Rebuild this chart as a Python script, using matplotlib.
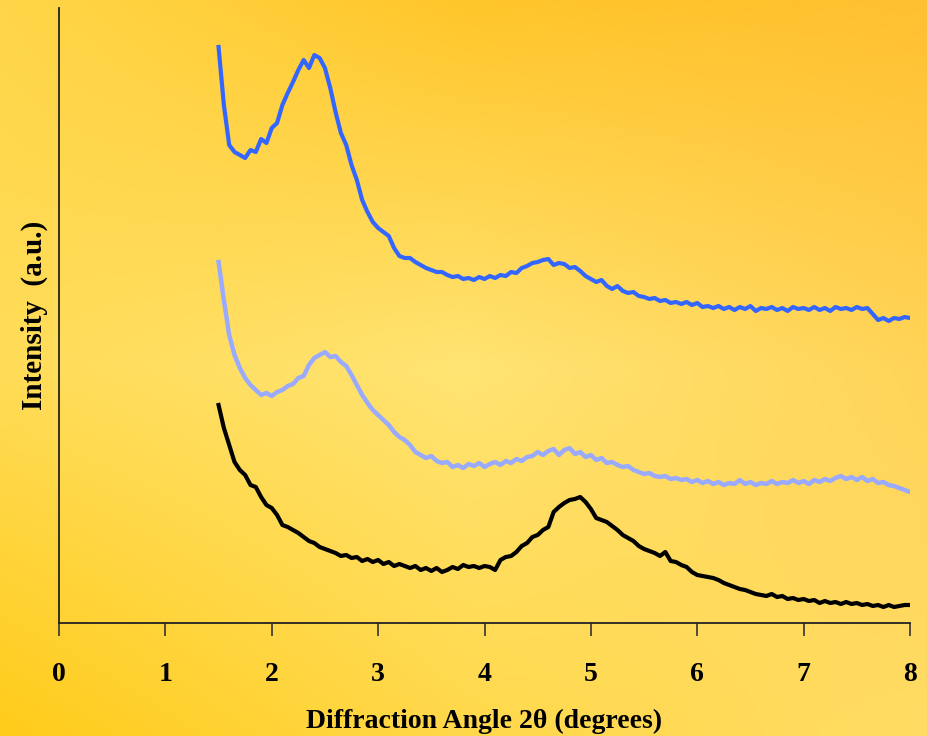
import matplotlib
matplotlib.use("Agg")
import matplotlib.pyplot as plt
import numpy as np

# XRD patterns, 2-theta from 1.50 to 8.00 deg in 0.05 deg steps
two_theta_start = 1.50
two_theta_step = 0.05

upper = [576, 518, 478, 471, 468, 465, 473, 471, 484, 480,
         495, 500, 518, 530, 541, 553, 563, 555, 568, 565,
         555, 535, 511, 490, 478, 458, 443, 423, 411, 401,
         395, 391, 387, 375, 367, 365, 365, 361, 358, 355,
         353, 351, 351, 348, 346, 347, 344, 345, 343, 346,
         344, 347, 345, 348, 347, 351, 350, 355, 357, 360,
         361, 363, 364, 358, 360, 359, 355, 356, 352, 347,
         344, 341, 343, 337, 334, 337, 332, 330, 331, 327,
         326, 324, 325, 322, 323, 320, 321, 319, 321, 318,
         320, 316, 317, 315, 317, 314, 316, 313, 316, 314,
         317, 312, 315, 314, 316, 313, 315, 312, 316, 314,
         315, 313, 316, 313, 315, 312, 316, 314, 315, 313,
         316, 314, 315, 309, 303, 305, 302, 305, 304, 306,
         305]

middle = [361, 323, 288, 268, 255, 245, 238, 233, 228, 230,
          227, 231, 233, 237, 239, 245, 247, 258, 265, 268,
          271, 266, 267, 261, 257, 248, 238, 228, 220, 213,
          208, 203, 198, 191, 186, 183, 178, 171, 168, 165,
          167, 162, 160, 161, 156, 158, 155, 159, 157, 160,
          156, 159, 161, 158, 162, 160, 164, 162, 166, 167,
          171, 168, 172, 174, 168, 173, 175, 169, 171, 166,
          168, 163, 165, 160, 161, 158, 156, 157, 153, 151,
          149, 150, 147, 146, 147, 144, 145, 143, 144, 141,
          143, 140, 142, 139, 141, 138, 140, 139, 143, 139,
          141, 138, 140, 139, 142, 139, 141, 140, 143, 140,
          142, 139, 143, 141, 144, 142, 145, 147, 144, 146,
          143, 146, 142, 144, 140, 141, 138, 137, 135, 133,
          131]

lower = [218, 195, 178, 161, 153, 148, 138, 136, 126, 118,
         115, 108, 98, 96, 93, 90, 86, 82, 80, 76,
         74, 72, 70, 67, 68, 65, 66, 62, 64, 61,
         63, 59, 61, 57, 59, 57, 55, 57, 53, 55,
         52, 55, 51, 53, 56, 54, 58, 56, 57, 55,
         57, 56, 53, 63, 66, 67, 71, 77, 80, 86,
         88, 93, 96, 111, 116, 120, 123, 124, 126, 121,
         114, 105, 103, 101, 97, 93, 88, 85, 82, 77,
         74, 72, 70, 67, 71, 62, 61, 58, 56, 51,
         48, 47, 46, 45, 43, 40, 38, 36, 34, 33,
         31, 29, 28, 27, 29, 26, 27, 24, 25, 23,
         24, 22, 23, 20, 22, 20, 21, 19, 21, 19,
         20, 18, 19, 17, 18, 16, 18, 16, 17, 18,
         18]

x_ticks = [0, 1, 2, 3, 4, 5, 6, 7, 8]

two_theta = two_theta_start + two_theta_step * np.arange(len(upper))

fig = plt.figure(figsize=(9.27, 7.36), dpi=100)

# warm yellow backdrop, blended from a 3x3 grid of colours
grid = np.array([
    [[255, 214, 72], [255, 198, 42], [255, 192, 48]],
    [[255, 220, 88], [255, 228, 115], [255, 212, 88]],
    [[255, 204, 26], [255, 216, 74], [255, 220, 100]],
]) / 255.0
ny, nx = 200, 250
gy = np.linspace(0, 2, ny)
gx = np.linspace(0, 2, nx)
iy = np.clip(gy.astype(int), 0, 1)
ix = np.clip(gx.astype(int), 0, 1)
fy = (gy - iy)[:, None, None]
fx = (gx - ix)[None, :, None]
c00 = grid[iy][:, ix]
c01 = grid[iy][:, ix + 1]
c10 = grid[iy + 1][:, ix]
c11 = grid[iy + 1][:, ix + 1]
bg = (c00 * (1 - fx) * (1 - fy) + c01 * fx * (1 - fy)
      + c10 * (1 - fx) * fy + c11 * fx * fy)
bg_ax = fig.add_axes([0, 0, 1, 1])
bg_ax.imshow(bg, aspect="auto", interpolation="bicubic")
bg_ax.axis("off")

ax = fig.add_axes([59 / 927, (736 - 623) / 736, (910 - 59) / 927, (623 - 8) / 736])
ax.patch.set_alpha(0)

ax.plot(two_theta, upper, color="#3366ff", lw=3.0, solid_joinstyle="round")
ax.plot(two_theta, middle, color="#99aaff", lw=3.2, solid_joinstyle="round")
ax.plot(two_theta, lower, color="#000000", lw=3.0, solid_joinstyle="round")

ax.set_xlim(0, 8)
ax.set_ylim(0, 615)
ax.set_xticks(x_ticks)
ax.set_xticklabels([str(t) for t in x_ticks], fontfamily="Liberation Serif",
                   fontweight="bold", fontsize=20)
ax.set_yticks([])
ax.tick_params(axis="x", direction="out", length=9, width=1.2, pad=19, color="#333333")
for side in ["top", "right"]:
    ax.spines[side].set_visible(False)
for side in ["left", "bottom"]:
    ax.spines[side].set_linewidth(1.3)
    ax.spines[side].set_color("#222222")

ax.set_xlabel("Diffraction Angle 2θ (degrees)", fontfamily="Liberation Serif",
              fontweight="bold", fontsize=20, labelpad=16)
ax.set_ylabel("Intensity  (a.u.)", fontfamily="Liberation Serif",
              fontweight="bold", fontsize=21, labelpad=8)

fig.savefig("out.png", dpi=100)
